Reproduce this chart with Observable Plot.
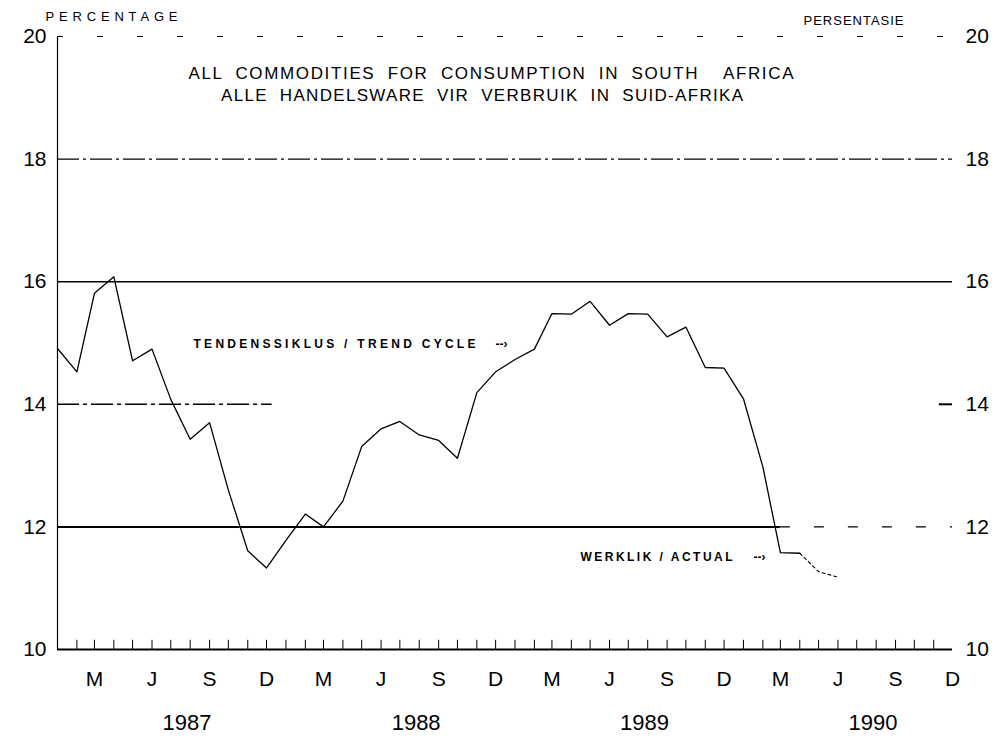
<!DOCTYPE html>
<html>
<head>
<meta charset="utf-8">
<script src="https://cdn.jsdelivr.net/npm/d3@7"></script>
<script src="https://cdn.jsdelivr.net/npm/@observablehq/plot@0.6"></script>
<style>
  html, body { margin: 0; padding: 0; background: #fff; }
  #chart { width: 999px; height: 744px; }
</style>
</head>
<body>
<div id="chart"></div>
<script>
// ---- data (percentage, monthly from Jan 1987) ----
const rate1987 = [14.91, 14.53, 15.81, 16.08, 14.71, 14.90, 14.08, 13.43, 13.70, 12.60, 11.61, 11.33];
const rate1988 = [11.78, 12.21, 12.00, 12.42, 13.31, 13.60, 13.72, 13.50, 13.41, 13.12, 14.19, 14.53];
const rate1989 = [14.73, 14.90, 15.48, 15.47, 15.68, 15.29, 15.48, 15.47, 15.10, 15.26, 14.60, 14.59];
const rate1990 = [14.09, 12.98, 11.58, 11.57, 11.27, 11.18];
const dashedFromIndex = 39; // Apr 1990 onwards drawn broken

const yTicks = [10, 12, 14, 16, 18, 20];
const quarterLetters = ["M", "J", "S", "D"];
const quarterMonths = [2, 5, 8, 11];
const years = [1987, 1988, 1989, 1990];

const titleLine1 = "ALL COMMODITIES FOR CONSUMPTION IN SOUTH  AFRICA";
const titleLine2 = "ALLE HANDELSWARE VIR VERBRUIK IN SUID-AFRIKA";
const leftUnit = "PERCENTAGE";
const rightUnit = "PERSENTASIE";
const trendLabel = "TENDENSSIKLUS / TREND CYCLE";
const actualLabel = "WERKLIK / ACTUAL";
const arrowText = "--\u203A";

// ---- build tables ----
const xStart = new Date(Date.UTC(1987, 0, 1));
const xEnd = new Date(Date.UTC(1990, 11, 1));
const allValues = [...rate1987, ...rate1988, ...rate1989, ...rate1990];
const series = allValues.map((v, i) => ({date: d3.utcMonth.offset(xStart, i), value: v}));
const solidPart = series.slice(0, dashedFromIndex + 1);
const dashedPart = series.slice(dashedFromIndex);

const monthLabels = years.flatMap(y => quarterMonths.map((m, j) => ({date: new Date(Date.UTC(y, m, 1)), text: quarterLetters[j]})));
const yearLabels = years.map(y => ({date: new Date(Date.UTC(y, 6, 27)), text: String(y)}));
const tickDates = d3.utcMonth.range(new Date(Date.UTC(1987, 1, 1)), new Date(Date.UTC(1990, 11, 1)));

const font = "'Liberation Sans', Arial, Helvetica, sans-serif";

const chart = Plot.plot({
  width: 999,
  height: 744,
  marginLeft: 57,
  marginRight: 47,
  marginTop: 36,
  marginBottom: 95,
  x: {type: "utc", domain: [xStart, xEnd], axis: null},
  y: {domain: [10, 20], axis: null},
  style: {fontFamily: font, background: "#fff", color: "#000", overflow: "visible"},
  marks: [
    // grid lines (as drawn on the original chart)
    Plot.ruleY([20], {x1: () => xStart, x2: () => xEnd, stroke: "#000", strokeWidth: 1, strokeDasharray: "6,34"}),
    Plot.ruleY([18], {x1: () => xStart, x2: () => xEnd, stroke: "#000", strokeWidth: 1.1, strokeDasharray: "22,4,3,4"}),
    Plot.ruleY([16], {x1: () => xStart, x2: () => xEnd, stroke: "#000", strokeWidth: 1.5}),
    Plot.ruleY([14], {x1: () => xStart, x2: () => new Date(Date.UTC(1987, 11, 10)), stroke: "#000", strokeWidth: 1.5, strokeDasharray: "22,4,4,4"}),
    Plot.ruleY([14], {x1: () => new Date(Date.UTC(1990, 10, 10)), x2: () => xEnd, stroke: "#000", strokeWidth: 2}),
    Plot.ruleY([12], {x1: () => xStart, x2: () => new Date(Date.UTC(1990, 2, 1)), stroke: "#000", strokeWidth: 2}),
    Plot.ruleY([12], {x1: () => new Date(Date.UTC(1990, 2, 1)), x2: () => xEnd, stroke: "#000", strokeWidth: 1.3, strokeDasharray: "10,24"}),
    Plot.ruleY([10], {x1: () => xStart, x2: () => xEnd, stroke: "#000", strokeWidth: 2}),
    Plot.ruleX([xStart], {y1: 10, y2: 20, stroke: "#000", strokeWidth: 1.2}),
    Plot.ruleX(tickDates, {y1: 10, y2: 10.15, stroke: "#000", strokeWidth: 1}),
    // series
    Plot.line(solidPart, {x: "date", y: "value", stroke: "#000", strokeWidth: 1.3}),
    Plot.line(dashedPart, {x: "date", y: "value", stroke: "#000", strokeWidth: 1.1, strokeDasharray: "3,3"}),
    // axis labels
    Plot.text(yTicks, {x: () => xStart, y: d => d, text: d => String(d), textAnchor: "end", dx: -11, fontSize: 21, fill: "#000"}),
    Plot.text(yTicks, {x: () => xEnd, y: d => d, text: d => String(d), textAnchor: "start", dx: 13, fontSize: 21, fill: "#000"}),
    Plot.text(monthLabels, {x: "date", y: () => 10, text: "text", dy: 30, fontSize: 21, fill: "#000"}),
    Plot.text(yearLabels, {x: "date", y: () => 10, text: "text", dy: 73, fontSize: 22, fill: "#000"}),
    // titles and annotations
    Plot.text([titleLine1], {frameAnchor: "top", text: d => d, dx: -14, dy: 37, lineAnchor: "middle", fontSize: 17, fill: "#000"}),
    Plot.text([titleLine2], {frameAnchor: "top", text: d => d, dx: -23, dy: 59, lineAnchor: "middle", fontSize: 17, fill: "#000"}),
    Plot.text([leftUnit], {frameAnchor: "top-left", text: d => d, textAnchor: "start", dx: -12, dy: -20, lineAnchor: "middle", fontSize: 13, fill: "#000"}),
    Plot.text([rightUnit], {frameAnchor: "top-right", text: d => d, textAnchor: "end", dx: -49, dy: -16, lineAnchor: "middle", fontSize: 13, fill: "#000"}),
    Plot.text([trendLabel], {frameAnchor: "top-left", text: d => d, textAnchor: "start", dx: 136, dy: 308, lineAnchor: "middle", fontSize: 12, fontWeight: "bold", fill: "#000"}),
    Plot.text([arrowText], {frameAnchor: "top-left", text: d => d, textAnchor: "start", dx: 438, dy: 308, lineAnchor: "middle", fontSize: 12, fontWeight: "bold", fill: "#000"}),
    Plot.text([actualLabel], {frameAnchor: "top-left", text: d => d, textAnchor: "start", dx: 523, dy: 521, lineAnchor: "middle", fontSize: 12, fontWeight: "bold", fill: "#000"}),
    Plot.text([arrowText], {frameAnchor: "top-left", text: d => d, textAnchor: "start", dx: 696, dy: 521, lineAnchor: "middle", fontSize: 12, fontWeight: "bold", fill: "#000"})
  ]
});

// stretch the spaced-out lettering to the widths seen in the reference
const stretch = new Map([
  [titleLine1, 605], [titleLine2, 522], [leftUnit, 132], [rightUnit, 100],
  [trendLabel, 282], [actualLabel, 152]
]);
const wordGap = new Map([[titleLine1, "6px"], [titleLine2, "6px"]]);
d3.select(chart).selectAll("text").each(function () {
  const t = this.textContent;
  if (wordGap.has(t)) this.style.wordSpacing = wordGap.get(t);
  if (stretch.has(t)) {
    this.setAttribute("textLength", stretch.get(t));
    this.setAttribute("lengthAdjust", "spacing");
  }
});

document.getElementById("chart").appendChild(chart);
</script>
</body>
</html>
